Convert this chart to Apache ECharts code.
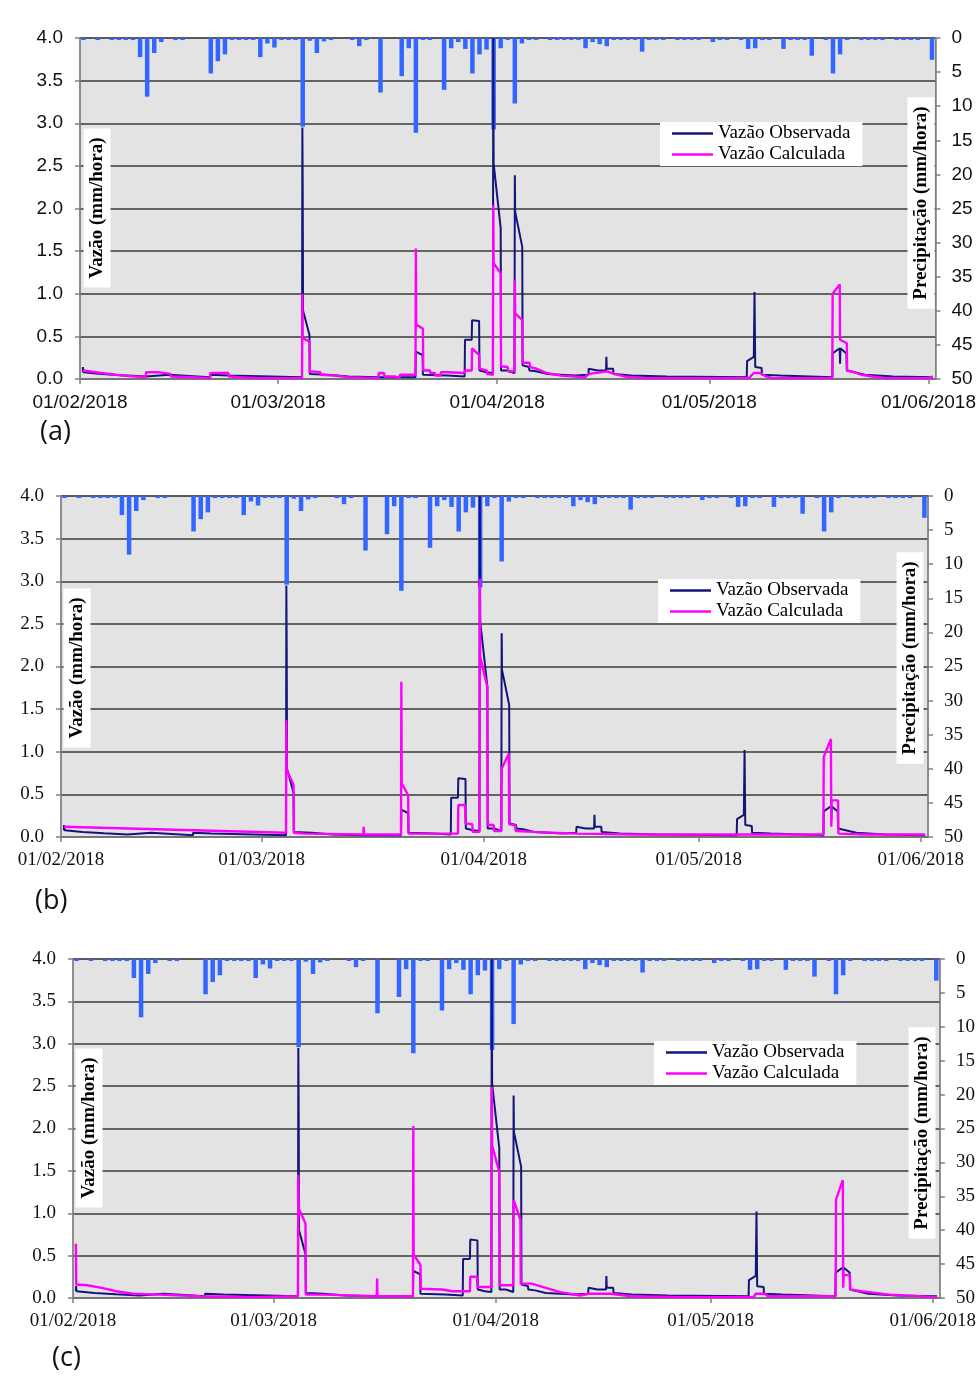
<!DOCTYPE html>
<html>
<head>
<meta charset="utf-8">
<script src="https://cdn.jsdelivr.net/npm/echarts@6.0.0/dist/echarts.min.js"></script>
<style>
  html, body { margin: 0; padding: 0; background: #fff; }
  #chart { width: 979px; height: 1377px; }
</style>
</head>
<body>
<div id="chart"></div>
<script>
// dias contados a partir de 01/02/2018
const tickDays = [0, 28, 59, 89, 120];
const tickLabels = ["01/02/2018", "01/03/2018", "01/04/2018", "01/05/2018", "01/06/2018"];

// precipitação diária (mm), 01/02 ... 01/06
const rain = [
  0.3, 0, 0.3, 0, 0.3, 0.3, 0.3, 0.3, 2.8, 8.6,
  2.2, 0.6, 0, 0.3, 0.3, 0, 0, 0, 5.2, 3.4,
  2.4, 0.3, 0.3, 0.3, 0.3, 2.8, 0.8, 1.4, 0.3, 0.3,
  0.3, 13.0, 0.4, 2.2, 0.5, 0.3, 0, 0, 0.3, 1.2,
  0.3, 0, 8.0, 0, 0, 5.6, 1.5, 13.9, 0.3, 0.3,
  0, 7.6, 1.5, 0.6, 1.6, 5.2, 2.4, 1.7, 13.4, 1.5,
  0.3, 9.6, 0.8, 0.3, 0.3, 0, 0.3, 0.3, 0.3, 0.3,
  0.3, 1.5, 0.6, 0.9, 1.2, 0.3, 0.3, 0.3, 0.3, 2.0,
  0.3, 0.3, 0.3, 0, 0.3, 0.3, 0.3, 0.3, 0, 0.6,
  0.3, 0.3, 0, 0.3, 1.6, 1.5, 0.3, 0.3, 0, 1.6,
  0.3, 0.3, 0.3, 2.6, 0, 0.3, 5.2, 2.4, 0.3, 0,
  0.3, 0.3, 0.3, 0.3, 0, 0.3, 0.3, 0.3, 0.3, 0,
  3.2
];

// vazão observada [dia, mm/hora] - igual nos três gráficos
const observed = [
  [0.4, 0.08], [0.42, 0.14], [0.5, 0.08], [3, 0.06], [6, 0.045], [9.3, 0.03], [9.35, 0.05], [12.6, 0.05],
  [12.65, 0.03], [18.4, 0.02], [18.45, 0.05], [21, 0.04], [21.05, 0.02], [31.4, 0.02],
  [31.45, 2.95], [31.5, 2.2], [31.55, 0.8], [32.45, 0.52], [32.5, 0.06], [35, 0.05], [38, 0.03], [42, 0.02],
  [47.45, 0.02], [47.5, 0.32], [48.45, 0.28], [48.5, 0.05], [52, 0.04], [54.4, 0.03],
  [54.45, 0.46], [55.4, 0.46], [55.45, 0.69], [56.45, 0.68], [56.5, 0.1], [57.5, 0.08], [58.4, 0.07],
  [58.45, 4.0], [58.5, 2.53], [59.5, 1.77], [59.55, 0.1], [60.4, 0.1], [60.45, 0.08], [61.45, 0.07],
  [61.5, 2.39], [61.55, 1.96], [62.55, 1.55], [62.6, 0.16], [63.5, 0.14], [63.55, 0.1], [64.5, 0.09],
  [66, 0.06], [70, 0.04], [71.9, 0.05], [71.95, 0.12], [73.2, 0.1], [74.4, 0.1], [74.45, 0.26], [74.5, 0.12],
  [75.4, 0.12], [75.45, 0.06], [78, 0.04], [83, 0.03], [94.3, 0.02],
  [94.35, 0.21], [95.3, 0.26], [95.4, 1.02], [95.5, 0.14], [96.4, 0.13], [96.45, 0.05], [99, 0.04], [106.4, 0.02],
  [106.45, 0.3], [107.45, 0.36], [107.5, 0.18], [107.55, 0.36], [108.4, 0.3], [108.45, 0.1], [109.5, 0.08],
  [111, 0.05], [115, 0.03], [120.6, 0.02]
];

// vazão calculada (a)
const calcA = [
  [0.4, 0.1], [3, 0.07], [6, 0.04], [9.3, 0.02], [9.35, 0.08], [11, 0.08], [12.8, 0.06], [12.85, 0.03], [16, 0.02],
  [18.4, 0.01], [18.45, 0.07], [21, 0.07], [21.05, 0.03], [22.5, 0.02], [25, 0.01], [31.4, 0.01],
  [31.45, 1.0], [31.5, 0.48], [32.45, 0.44], [32.5, 0.08], [33, 0.09], [34, 0.08], [34.05, 0.05], [36, 0.04],
  [38, 0.02], [42.2, 0.01], [42.25, 0.07], [43, 0.07], [43.05, 0.03], [44.5, 0.03], [44.55, 0.01], [45.2, 0.01],
  [45.25, 0.05], [47.45, 0.05], [47.5, 1.53], [47.55, 0.64], [48.5, 0.59], [48.55, 0.1], [49.5, 0.1], [49.55, 0.07],
  [50.2, 0.07], [50.25, 0.04], [51, 0.04], [51.05, 0.08], [52, 0.08], [52.05, 0.07], [54.4, 0.07], [54.45, 0.1],
  [55.4, 0.1], [55.45, 0.36], [56.45, 0.28], [56.5, 0.12], [57.5, 0.1], [57.55, 0.06], [58.4, 0.05],
  [58.45, 2.04], [58.5, 1.36], [59.5, 1.24], [59.55, 0.15], [60.5, 0.14], [60.55, 0.09], [61.45, 0.09],
  [61.5, 1.16], [61.55, 0.77], [62.55, 0.69], [62.6, 0.19], [63.6, 0.19], [63.65, 0.14], [64.6, 0.12], [64.65, 0.1],
  [66, 0.07], [68, 0.04], [71.4, 0.02], [72, 0.06], [74.6, 0.09], [75.5, 0.06], [77, 0.03], [79.8, 0.01],
  [94.6, 0.01], [95.3, 0.07], [96.2, 0.07], [97, 0.03], [98, 0.01], [106.4, 0.01],
  [106.45, 1.0], [107.45, 1.11], [107.5, 0.46], [108.45, 0.42], [108.5, 0.1], [109.5, 0.08], [110.5, 0.05],
  [112, 0.03], [114, 0.01], [120, 0.01], [120.6, 0.03]
];

// vazão calculada (b)
const calcB = [
  [0.4, 0.12], [31.4, 0.05], [31.45, 1.37], [31.5, 0.79], [32.45, 0.61], [32.5, 0.05], [34, 0.04], [42.2, 0.03],
  [42.25, 0.12], [42.3, 0.03], [47.45, 0.03], [47.5, 1.82], [47.55, 0.63], [48.45, 0.49], [48.5, 0.04], [55.4, 0.04],
  [55.45, 0.375], [56.4, 0.375], [56.45, 0.16], [57.4, 0.15], [57.45, 0.06], [58.4, 0.06],
  [58.45, 3.03], [58.5, 2.11], [59.5, 1.76], [59.55, 0.14], [60.4, 0.14], [60.45, 0.07], [61.45, 0.07],
  [61.5, 0.8], [62.5, 0.98], [62.55, 0.15], [63.4, 0.14], [63.45, 0.07], [66, 0.06], [72, 0.04], [80, 0.03],
  [106.4, 0.03], [106.45, 0.94], [107.45, 1.15], [107.5, 0.12], [107.55, 0.43], [108.45, 0.43], [108.5, 0.04],
  [112, 0.03], [120.6, 0.03]
];

// vazão calculada (c)
const calcC = [
  [0.4, 0.64], [0.45, 0.16], [2, 0.15], [4, 0.12], [6, 0.08], [8.4, 0.05], [12, 0.04], [17.7, 0.02], [25, 0.01],
  [31.4, 0.02], [31.45, 1.45], [31.5, 1.06], [32.45, 0.88], [32.5, 0.04], [35, 0.04], [42.4, 0.02], [42.45, 0.23],
  [42.5, 0.02], [47.45, 0.02], [47.5, 2.03], [47.55, 0.51], [48.5, 0.39], [48.55, 0.11], [51.5, 0.1], [53, 0.08],
  [55.4, 0.08], [55.45, 0.25], [56.4, 0.25], [56.45, 0.13], [58.4, 0.13],
  [58.45, 2.49], [58.5, 1.8], [59.5, 1.49], [59.55, 0.15], [61.45, 0.15],
  [61.5, 1.16], [62.45, 0.92], [62.5, 0.17], [64, 0.17], [66, 0.12], [68, 0.07], [70.8, 0.03], [72, 0.05],
  [75, 0.05], [78, 0.02], [84.8, 0.01], [95, 0.01], [95.3, 0.05], [96.6, 0.05], [97, 0.02], [106.45, 0.02],
  [106.5, 1.16], [107.45, 1.39], [107.5, 0.12], [107.55, 0.27], [108.45, 0.27], [108.5, 0.1], [110, 0.08],
  [114, 0.04], [120.6, 0.01]
];

const SANS = "'Liberation Sans', Arial, sans-serif";
const SERIF = "'Liberation Serif', 'Times New Roman', serif";

// layout dos três painéis
const panels = [
  { calc: calcA, left: 80, right: 40, top: 38, height: 341, tickFont: SANS,
    legend: { left: 660, top: 122 }, tag: "(a)", tagXY: [40, 419],
    vazaoXY: [97, 208], precXY: [921, 203] },
  { calc: calcB, left: 61, right: 51, top: 496, height: 341, tickFont: SERIF,
    legend: { left: 658, top: 579 }, tag: "(b)", tagXY: [35, 888],
    vazaoXY: [77, 668], precXY: [910, 658] },
  { calc: calcC, left: 73, right: 39, top: 959, height: 339, tickFont: SERIF,
    legend: { left: 654, top: 1041 }, tag: "(c)", tagXY: [52, 1345],
    vazaoXY: [89, 1128], precXY: [922, 1133] }
];

const axisGray = "#808080";
const chart = echarts.init(document.getElementById("chart"));

const grids = [], xAxes = [], yAxes = [], series = [], legends = [], graphics = [];

panels.forEach((p, i) => {
  grids.push({
    left: p.left, right: p.right, top: p.top, height: p.height,
    show: true, backgroundColor: "#e3e3e3", borderColor: axisGray, borderWidth: 1
  });

  xAxes.push({
    type: "value", gridIndex: i, min: 0, max: 121,
    axisLine: { onZero: false, lineStyle: { color: axisGray, width: 1.5 } },
    axisTick: { customValues: tickDays, length: 5, lineStyle: { color: axisGray, width: 1.5 } },
    axisLabel: {
      customValues: tickDays, margin: 14, fontFamily: p.tickFont, fontSize: 19, color: "#111",
      formatter: v => tickLabels[tickDays.indexOf(v)]
    },
    splitLine: { show: false }
  });

  // vazão (esquerda)
  yAxes.push({
    type: "value", gridIndex: i, position: "left", min: 0, max: 4, interval: 0.5,
    axisLine: { show: true, lineStyle: { color: axisGray, width: 1.5 } },
    axisTick: { show: true, length: 5, lineStyle: { color: axisGray, width: 1.5 } },
    axisLabel: { margin: 17, fontFamily: p.tickFont, fontSize: 19, color: "#111", formatter: v => v.toFixed(1) },
    splitLine: { lineStyle: { color: "#3a3a3a", width: 1.6 } }
  });

  // precipitação (direita, invertido)
  yAxes.push({
    type: "value", gridIndex: i, position: "right", min: 0, max: 50, interval: 5, inverse: true,
    axisLine: { show: true, lineStyle: { color: axisGray, width: 1.5 } },
    axisTick: { show: true, length: 5, lineStyle: { color: axisGray, width: 1.5 } },
    axisLabel: { margin: 16, fontFamily: p.tickFont, fontSize: 19, color: "#111" },
    splitLine: { show: false }
  });

  series.push({
    name: "Precipitação", type: "bar", xAxisIndex: i, yAxisIndex: 2 * i + 1,
    data: rain.map((v, d) => [d + 0.5, v]),
    barWidth: 4.5, itemStyle: { color: "#3366ff" }, animation: false
  });
  series.push({
    name: "Vazão Observada", type: "line", xAxisIndex: i, yAxisIndex: 2 * i,
    data: observed, showSymbol: false, color: "#14147a",
    lineStyle: { color: "#14147a", width: 2 }, animation: false
  });
  series.push({
    name: "Vazão Calculada", type: "line", xAxisIndex: i, yAxisIndex: 2 * i,
    data: p.calc, showSymbol: false, color: "#ff00ff",
    lineStyle: { color: "#ff00ff", width: 2.4 }, animation: false
  });

  legends.push({
    data: ["Vazão Observada", "Vazão Calculada"],
    orient: "vertical", left: p.legend.left, top: p.legend.top,
    icon: "rect", itemWidth: 41, itemHeight: 2.5, itemGap: 2, itemTextGap: 7,
    backgroundColor: "#fff", padding: [2, 12, 2, 12],
    textStyle: { fontFamily: SERIF, fontSize: 19, color: "#000" }
  });

  const nameStyle = { fontFamily: SERIF, fontWeight: "bold", fontSize: 19 };
  graphics.push({
    type: "text", x: p.vazaoXY[0], y: p.vazaoXY[1], rotation: Math.PI / 2, z: 100,
    style: Object.assign({ text: "Vazão (mm/hora)", fill: "#000", textAlign: "center", textVerticalAlign: "middle",
      backgroundColor: "#fff", padding: [4, 9] }, nameStyle)
  });
  graphics.push({
    type: "text", x: p.precXY[0], y: p.precXY[1], rotation: Math.PI / 2, z: 100,
    style: Object.assign({ text: "Precipitação (mm/hora)", fill: "#000", textAlign: "center", textVerticalAlign: "middle",
      backgroundColor: "#fff", padding: [4, 9] }, nameStyle)
  });
  graphics.push({
    type: "text", x: p.tagXY[0], y: p.tagXY[1],
    style: { text: p.tag, fill: "#111", fontFamily: "'Open Sans', sans-serif", fontSize: 27, textVerticalAlign: "top" }
  });
});

chart.setOption({
  animation: false,
  grid: grids,
  xAxis: xAxes,
  yAxis: yAxes,
  legend: legends,
  series: series,
  graphic: graphics
});
</script>
</body>
</html>
